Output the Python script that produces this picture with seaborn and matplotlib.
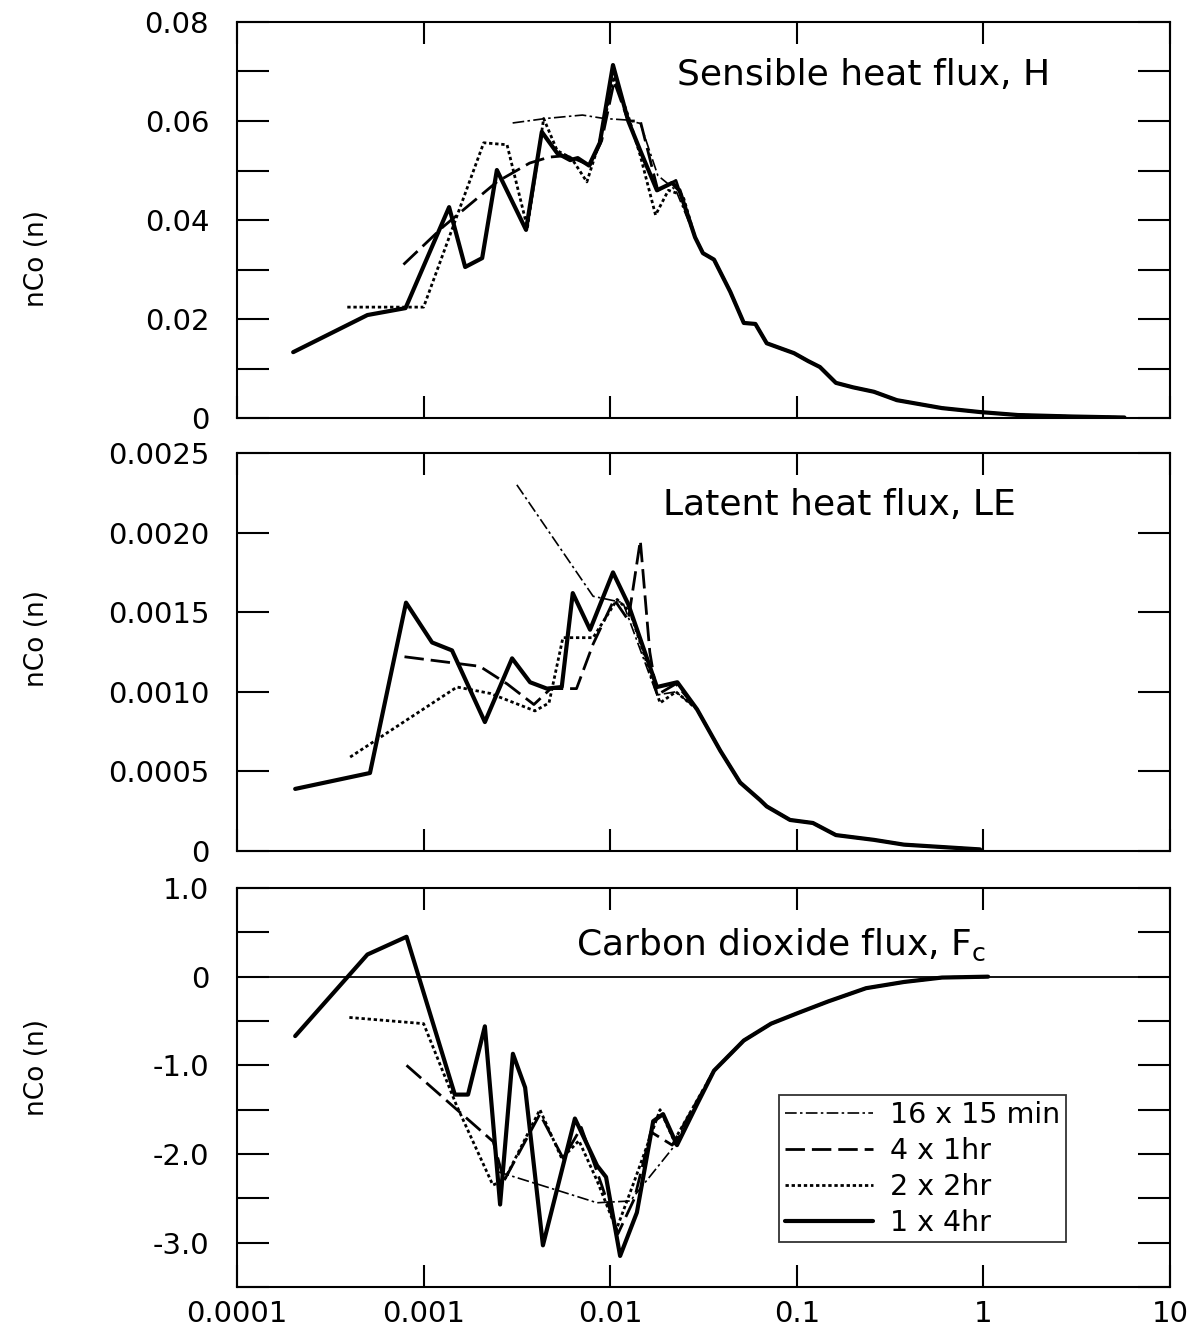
import numpy as np
import pandas as pd
import matplotlib
matplotlib.use("Agg")
import matplotlib.pyplot as plt
from matplotlib.ticker import FixedLocator, NullLocator, FixedFormatter
import seaborn as sns

# ---------------- data ----------------
series_labels = ["16 x 15 min", "4 x 1hr", "2 x 2hr", "1 x 4hr"]
x_ticks = [1e-4, 1e-3, 1e-2, 1e-1, 1, 10]
x_ticklabels = ["0.0001", "0.001", "0.01", "0.1", "1", "10"]

# Panel 1: sensible heat flux H
H_tail_x = [0.0285, 0.0314, 0.036, 0.044, 0.052, 0.060, 0.069, 0.083, 0.0966, 0.115,
            0.133, 0.162, 0.20, 0.259, 0.344, 0.60, 0.96, 1.53, 3.0, 5.7]
H_tail_y = [0.0365, 0.0333, 0.032, 0.0255, 0.0192, 0.019, 0.0151, 0.014, 0.0131, 0.0115,
            0.0103, 0.0071, 0.0062, 0.0053, 0.0036, 0.002, 0.0012, 0.0006, 0.0003, 0.0001]
H_dashdot_x = [0.003, 0.0045, 0.0071, 0.0093, 0.0123, 0.0145, 0.018, 0.0225]
H_dashdot_y = [0.0596, 0.0605, 0.0612, 0.0605, 0.0602, 0.0595, 0.049, 0.046]
H_dashed_x = [0.00078, 0.00127, 0.00247, 0.0037, 0.0047, 0.0058, 0.0068, 0.0078, 0.009,
              0.0105, 0.0125, 0.0145, 0.018, 0.0225]
H_dashed_y = [0.031, 0.0386, 0.0477, 0.0515, 0.0527, 0.053, 0.052, 0.051, 0.056,
              0.068, 0.060, 0.060, 0.046, 0.048]
H_dotted_x = [0.00039, 0.001, 0.0021, 0.0028, 0.0036, 0.0044, 0.0052, 0.0062, 0.0075,
              0.0088, 0.0105, 0.0125, 0.0145, 0.0175, 0.0205, 0.0245]
H_dotted_y = [0.0224, 0.0224, 0.0556, 0.0552, 0.0384, 0.0605, 0.054, 0.0525, 0.0477,
              0.056, 0.069, 0.061, 0.053, 0.041, 0.046, 0.045]
H_solid_x = [0.0002, 0.0005, 0.0008, 0.00137, 0.00167, 0.00206, 0.00247, 0.00354, 0.0043,
             0.0052, 0.0061, 0.0067, 0.0077, 0.0088, 0.01035, 0.0125, 0.0145, 0.0178,
             0.0215, 0.0235]
H_solid_y = [0.0133, 0.0208, 0.0222, 0.0426, 0.0305, 0.0323, 0.0501, 0.038, 0.0578,
             0.0535, 0.0521, 0.0525, 0.051, 0.0556, 0.0713, 0.060, 0.054, 0.046,
             0.0475, 0.046]

# Panel 2: latent heat flux LE
LE_tail_x = [0.0292, 0.0389, 0.0497, 0.0636, 0.069, 0.092, 0.122, 0.162, 0.259, 0.375, 0.6, 0.96]
LE_tail_y = [0.00089, 0.00063, 0.00043, 0.00032, 0.00028, 0.000195, 0.000176, 0.0001,
             0.00007, 0.00004, 0.000025, 0.00001]
LE_dashdot_x = [0.00316, 0.0081, 0.0117, 0.0178, 0.0225]
LE_dashdot_y = [0.0023, 0.0016, 0.00156, 0.00098, 0.001]
LE_dashed_x = [0.00079, 0.002, 0.0028, 0.0039, 0.0048, 0.0066, 0.0081, 0.0105, 0.0125,
               0.0145, 0.0163, 0.0178, 0.0225]
LE_dashed_y = [0.00122, 0.00116, 0.00105, 0.00092, 0.00102, 0.00102, 0.0013, 0.00158,
               0.00145, 0.00195, 0.00125, 0.00098, 0.00105]
LE_dotted_x = [0.000404, 0.00151, 0.00227, 0.00395, 0.0047, 0.00558, 0.0081, 0.0109,
               0.0128, 0.0185, 0.0225]
LE_dotted_y = [0.00059, 0.00103, 0.00099, 0.00088, 0.00093, 0.00134, 0.00134, 0.00158,
               0.0015, 0.00093, 0.001]
LE_solid_x = [0.000205, 0.000516, 0.000805, 0.00111, 0.00142, 0.00213, 0.00298, 0.00372,
              0.00458, 0.0055, 0.0063, 0.0078, 0.01035, 0.0125, 0.0178, 0.0229]
LE_solid_y = [0.00039, 0.00049, 0.00156, 0.00131, 0.00126, 0.00081, 0.00121, 0.00106,
              0.00102, 0.00103, 0.00162, 0.00139, 0.00175, 0.00155, 0.00103, 0.00106]

# Panel 3: carbon dioxide flux Fc
Fc_tail_x = [0.036, 0.052, 0.0728, 0.1014, 0.147, 0.235, 0.375, 0.6, 1.06]
Fc_tail_y = [-1.06, -0.72, -0.53, -0.41, -0.28, -0.13, -0.06, -0.01, 0.0]
Fc_dashdot_x = [0.0025, 0.0056, 0.0085, 0.0128, 0.0215]
Fc_dashdot_y = [-2.2, -2.43, -2.55, -2.53, -1.94]
Fc_dashed_x = [0.00081, 0.00236, 0.0027, 0.0042, 0.0056, 0.007, 0.009, 0.011, 0.0135,
               0.0165, 0.0215]
Fc_dashed_y = [-1.0, -1.86, -2.3, -1.55, -2.05, -1.7, -2.35, -2.9, -2.5, -1.75, -1.9]
Fc_dotted_x = [0.0004, 0.001, 0.0015, 0.00235, 0.0027, 0.0042, 0.0055, 0.0068, 0.0085,
               0.0108, 0.0135, 0.0185, 0.022]
Fc_dotted_y = [-0.46, -0.53, -1.45, -2.35, -2.3, -1.5, -2.05, -1.85, -2.3, -2.85, -2.3,
               -1.5, -1.85]
Fc_solid_x = [0.000205, 0.0005, 0.00081, 0.00147, 0.00173, 0.00213, 0.00257, 0.00301,
              0.0035, 0.00436, 0.00647, 0.0085, 0.0095, 0.0113, 0.0139, 0.017, 0.0192,
              0.0228, 0.0292]
Fc_solid_y = [-0.67, 0.25, 0.45, -1.33, -1.33, -0.56, -2.57, -0.87, -1.25, -3.03, -1.6,
              -2.13, -2.26, -3.15, -2.66, -1.63, -1.55, -1.9, -1.44]

# ---------------- style ----------------
sns.set_theme(style="ticks")
plt.rcParams["font.family"] = ["DejaVu Sans"]
plt.rcParams["axes.linewidth"] = 1.5
plt.rcParams["mathtext.fontset"] = "dejavusans"
for key in ("text.color", "axes.labelcolor", "xtick.color", "ytick.color",
            "xtick.labelcolor", "ytick.labelcolor", "axes.edgecolor"):
    plt.rcParams[key] = "black"

line_styles = [
    dict(linestyle=(0, (7, 2, 1.5, 2)), lw=1.2),   # 16 x 15 min
    dict(linestyle=(0, (7, 2.5)), lw=2.0),         # 4 x 1hr
    dict(linestyle=(0, (1.2, 1.0)), lw=2.0),       # 2 x 2hr
    dict(linestyle="-", lw=3.0),                   # 1 x 4hr
]

fig = plt.figure(figsize=(11.98, 13.43), dpi=100)
left, width = 237 / 1198, 933 / 1198
ax1 = fig.add_axes([left, 1 - 418 / 1343, width, 396 / 1343])
ax2 = fig.add_axes([left, 1 - 851 / 1343, width, 398 / 1343])
ax3 = fig.add_axes([left, 1 - 1287 / 1343, width, 399 / 1343])

panels = [
    (ax1, [(H_dashdot_x, H_dashdot_y), (H_dashed_x, H_dashed_y), (H_dotted_x, H_dotted_y),
           (H_solid_x, H_solid_y)], (H_tail_x, H_tail_y)),
    (ax2, [(LE_dashdot_x, LE_dashdot_y), (LE_dashed_x, LE_dashed_y),
           (LE_dotted_x, LE_dotted_y), (LE_solid_x, LE_solid_y)], (LE_tail_x, LE_tail_y)),
    (ax3, [(Fc_dashdot_x, Fc_dashdot_y), (Fc_dashed_x, Fc_dashed_y),
           (Fc_dotted_x, Fc_dotted_y), (Fc_solid_x, Fc_solid_y)], (Fc_tail_x, Fc_tail_y)),
]

legend_handles = []
for ax, series, tail in panels:
    for i, (sx, sy) in enumerate(series):
        df = pd.DataFrame({"n": list(sx) + list(tail[0]), "v": list(sy) + list(tail[1])})
        sns.lineplot(data=df, x="n", y="v", ax=ax, color="black", sort=False,
                     estimator=None, **line_styles[i])
        if ax is ax3:
            legend_handles.append(ax.get_lines()[-1])
    ax.set_xscale("log")
    ax.set_xlim(1e-4, 10)
    ax.xaxis.set_major_locator(FixedLocator(x_ticks))
    ax.xaxis.set_minor_locator(NullLocator())
    ax.tick_params(which="both", direction="in", top=True, right=True, width=1.5,
                   colors="black", labelcolor="black", labelsize=21)
    ax.tick_params(axis="x", which="both", length=16, pad=9)
    ax.tick_params(axis="y", which="both", length=23, pad=20)
    for s in ax.spines.values():
        s.set_color("black")
        s.set_linewidth(1.5)
    ax.set_xlabel("")
    ax.set_ylabel("nCo (n)", fontsize=19, color="black")
    if ax is not ax3:
        ax.tick_params(axis="x", labelbottom=False)

ax3.xaxis.set_major_formatter(FixedFormatter(x_ticklabels))

# Panel 1 axis
ax1.set_ylim(0, 0.08)
ax1.yaxis.set_major_locator(FixedLocator([0, 0.02, 0.04, 0.06, 0.08]))
ax1.yaxis.set_major_formatter(FixedFormatter(["0", "0.02", "0.04", "0.06", "0.08"]))
ax1.yaxis.set_minor_locator(FixedLocator([0.01, 0.03, 0.05, 0.07]))

# Panel 2 axis
ax2.set_ylim(0, 0.0025)
ax2.yaxis.set_major_locator(FixedLocator([0, 0.0005, 0.0010, 0.0015, 0.0020, 0.0025]))
ax2.yaxis.set_major_formatter(FixedFormatter(["0", "0.0005", "0.0010", "0.0015",
                                              "0.0020", "0.0025"]))
ax2.yaxis.set_minor_locator(NullLocator())

# Panel 3 axis
ax3.set_ylim(-3.5, 1.0)
ax3.yaxis.set_major_locator(FixedLocator([-3.0, -2.0, -1.0, 0, 1.0]))
ax3.yaxis.set_major_formatter(FixedFormatter(["-3.0", "-2.0", "-1.0", "0", "1.0"]))
ax3.yaxis.set_minor_locator(FixedLocator([-3.5, -2.5, -1.5, -0.5, 0.5]))
ax3.axhline(0, color="black", lw=1.3, zorder=1)

ax1.yaxis.set_label_coords(-0.20, 0.404)
ax2.yaxis.set_label_coords(-0.20, 0.535)
ax3.yaxis.set_label_coords(-0.20, 0.549)

ax1.text(0.672, 0.866, "Sensible heat flux, H", transform=ax1.transAxes, fontsize=26,
         ha="center", va="center", color="black")
ax2.text(0.646, 0.869, "Latent heat flux, LE", transform=ax2.transAxes, fontsize=26,
         ha="center", va="center", color="black")
ax3.text(0.583, 0.857, r"Carbon dioxide flux, F$_\mathregular{c}$", transform=ax3.transAxes,
         fontsize=26, ha="center", va="center", color="black")

leg = ax3.legend(legend_handles, series_labels, loc="upper left",
                 bbox_to_anchor=(0.581, 0.481), frameon=True, fancybox=False,
                 edgecolor="black", fontsize=20.5, handlelength=3.1, handletextpad=0.6,
                 borderpad=0.2, labelspacing=0.28, borderaxespad=0)
leg.get_frame().set_linewidth(1.3)
for t in leg.get_texts():
    t.set_color("black")
for ax in (ax1, ax2):
    if ax.get_legend() is not None:
        ax.get_legend().remove()

fig.savefig("out.png", dpi=100, facecolor="white")
